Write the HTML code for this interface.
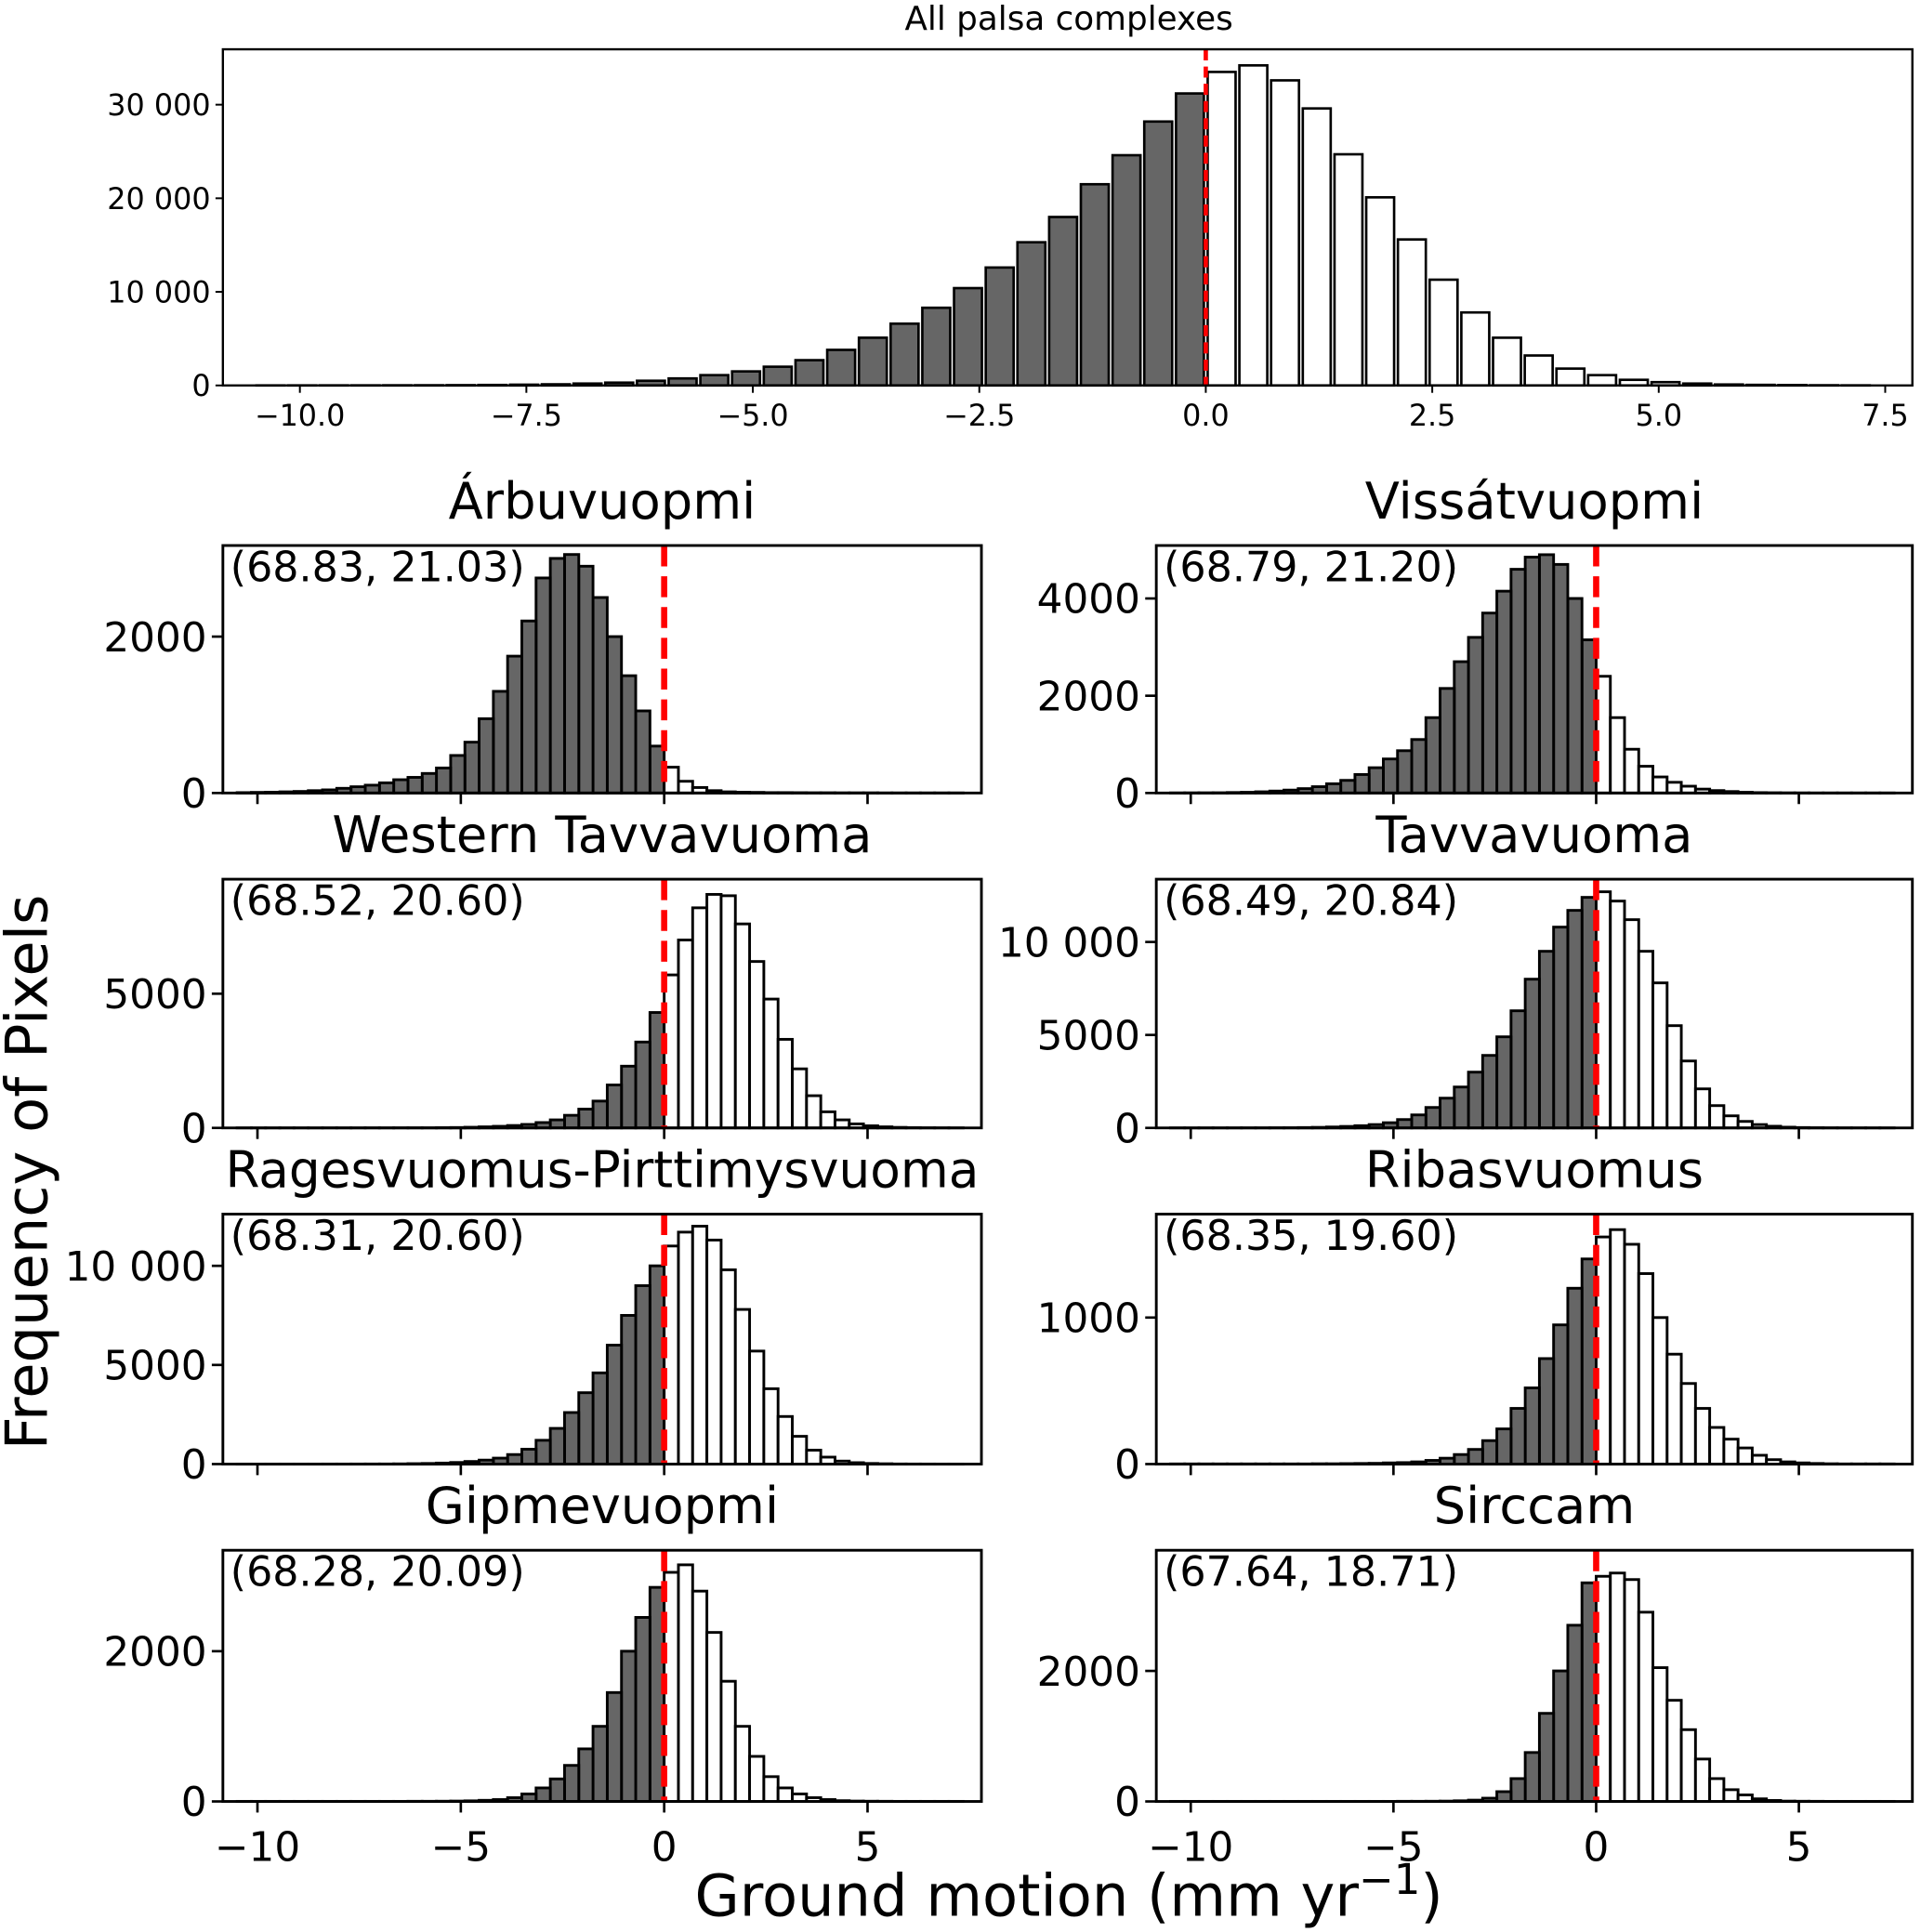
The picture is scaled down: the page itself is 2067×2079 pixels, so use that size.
<!DOCTYPE html>
<html><head><meta charset="utf-8"><style>
html,body{margin:0;padding:0;background:#fff;}
svg{display:block;font-family:"DejaVu Sans","Liberation Sans",sans-serif;}
</style></head><body>
<svg id="fig" xmlns="http://www.w3.org/2000/svg" width="2067" height="2079" viewBox="0 0 1560 1569">
<rect width="1560" height="1569" fill="#fff"/>
<text x="0" y="0" transform="translate(38,952) rotate(-90)" text-anchor="middle" font-size="47">Frequency of Pixels</text>
<text x="868" y="1556" text-anchor="middle" font-size="47">Ground motion (mm yr<tspan dy="-18" font-size="34">−1</tspan><tspan dy="18">)</tspan></text>
</svg>
<script>
const binWidth = 0.35;
// counts per bin, going away from 0 (negative side leftwards, positive side rightwards)
const allNeg = [31200,28200,24600,21500,18000,15300,12600,10400,8300,6600,5100,3800,2700,2000,1500,1100,750,500,300,200,120,80,50,30,20,15,10,8,5,3];
const allPos = [33500,34200,32600,29600,24700,20100,15600,11300,7800,5100,3200,1800,1100,600,350,200,100,60,40,20,10];
const arbNeg = [600,1050,1500,2000,2500,2900,3050,3000,2750,2200,1750,1300,950,650,480,320,250,200,170,130,100,80,60,40,30,20,15,10,8,5];
const arbPos = [330,150,70,30,15,10,8,5,5,4,3,3,2,2,2,1,1,1,1,1,1];
const visNeg = [3150,4000,4700,4900,4850,4600,4150,3700,3200,2700,2150,1550,1100,870,700,520,380,260,190,130,90,60,40,25,15,10,5,4,3,2];
const visPos = [2400,1550,900,550,330,220,140,80,50,30,15,8,5,3,2,1,1,1,1,1,1];
const wtaNeg = [4300,3200,2300,1600,1000,700,470,300,200,130,90,60,40,25,15,10,5,5,4,3,3,2,2,2,1,1,1,1,1,1];
const wtaPos = [5700,7000,8200,8700,8650,7600,6200,4800,3300,2200,1200,600,300,150,80,40,20,10,5,3,2];
const tavNeg = [12400,11700,10800,9500,8000,6300,4900,3900,3000,2200,1600,1100,700,450,280,180,120,80,50,30,20,10,8,5,4,3,2,2,1,1];
const tavPos = [12700,12200,11200,9500,7800,5500,3600,2100,1200,650,350,180,90,40,20,10,5,3,2,1,1];
const ragNeg = [10000,9000,7500,6000,4600,3600,2600,1800,1200,750,480,300,200,130,80,50,30,20,10,5,4,3,2,2,1,1,1,1,1,1];
const ragPos = [11000,11700,12000,11300,9800,7800,5700,3800,2400,1400,700,350,150,70,30,15,5,3,2,1,1];
const ribNeg = [1400,1200,950,720,520,380,240,160,100,65,40,25,15,10,8,5,4,3,2,2,1,1,1,1,1,1,1,1,1,1];
const ribPos = [1550,1600,1500,1300,1000,750,550,380,250,170,110,60,30,15,8,4,2,1,1,1,1];
const gipNeg = [2850,2450,2000,1450,1000,700,480,300,180,100,50,25,15,8,5,3,2,2,1,1,1,1,1,1,1,1,1,1,1,1];
const gipPos = [3050,3150,2800,2250,1600,1000,600,330,180,100,50,25,10,5,3,2,1,1,1,1,1];
const sirNeg = [3350,2700,2000,1350,750,350,150,50,20,10,5,3,2,2,1,1,1,1,1,1,1,1,1,1,1,1,1,1,1,1];
const sirPos = [3450,3500,3400,2900,2050,1550,1100,650,350,180,100,40,15,5,3,2,1,1,1,1,1];
const topXTicks = [-10,-7.5,-5,-2.5,0,2.5,5,7.5];
const topXTickLabels = ["−10.0","−7.5","−5.0","−2.5","0.0","2.5","5.0","7.5"];
const topYTicks = [0,10000,20000,30000];
const topYTickLabels = ["0","10 000","20 000","30 000"];
const smallXTicks = [-10,-5,0,5];
const smallXTickLabels = ["−10","−5","0","5"];
const panelTitles = ["Árbuvuopmi","Vissátvuopmi","Western Tavvavuoma","Tavvavuoma","Ragesvuomus-Pirttimysvuoma","Ribasvuomus","Gipmevuopmi","Sirccam"];
const panelCoords = ["(68.83, 21.03)","(68.79, 21.20)","(68.52, 20.60)","(68.49, 20.84)","(68.31, 20.60)","(68.35, 19.60)","(68.28, 20.09)","(67.64, 18.71)"];
const panelYTicks = [[0,2000],[0,2000,4000],[0,5000],[0,5000,10000],[0,5000,10000],[0,1000],[0,2000],[0,2000]];
const panelYTickLabels = [["0","2000"],["0","2000","4000"],["0","5000"],["0","5000","10 000"],["0","5000","10 000"],["0","1000"],["0","2000"],["0","2000"]];
const panelYMax = [3165,5089,9266,13377,12609,1706,3344,3849];
const panelNeg = [arbNeg,visNeg,wtaNeg,tavNeg,ragNeg,ribNeg,gipNeg,sirNeg];
const panelPos = [arbPos,visPos,wtaPos,tavPos,ragPos,ribPos,gipPos,sirPos];

const NS = "http://www.w3.org/2000/svg";
const fig = document.getElementById('fig');
const XMIN = -10.85, XMAX = 7.8;
function mk(tag, attrs, parent){const e=document.createElementNS(NS,tag);for(const k in attrs)e.setAttribute(k,attrs[k]);parent.appendChild(e);return e;}

function drawPanel(g, box, neg, pos, yMax, yTicks, yLabels, xTicks, xLabels, showXLabels, o){
  const [x0,y0,x1,y1]=box;
  const xs=v=>x0+(v-XMIN)/(XMAX-XMIN)*(x1-x0);
  const ys=v=>y1-v/yMax*(y1-y0);
  const bars=[];
  neg.forEach((c,i)=>bars.push({lo:-(i+1)*binWidth,c,dark:true}));
  pos.forEach((c,i)=>bars.push({lo:i*binWidth,c,dark:false}));
  bars.forEach(b=>{
    const w=xs(b.lo+binWidth)-xs(b.lo);
    const r=mk('rect',{x:xs(b.lo)+w*o.gap/2,y:ys(b.c),width:w*(1-o.gap),height:y1-ys(b.c),fill:b.dark?'#666':'#fff',stroke:'#000','stroke-width':o.bw},g);
    
    
  });
  const ln=mk('line',{x1:xs(0),x2:xs(0),y1:y0,y2:y1,stroke:'#f00','stroke-width':o.rw,'stroke-dasharray':o.dash},g);
  
  
  const fr=mk('rect',{x:x0,y:y0,width:x1-x0,height:y1-y0,fill:'none',stroke:'#000','stroke-width':o.fw},g);
  
  
  yTicks.forEach((v,i)=>{
    mk('line',{x1:x0-o.tl,x2:x0,y1:ys(v),y2:ys(v),stroke:'#000','stroke-width':o.tw},g);
    const t=mk('text',{x:x0-o.tl-4,y:ys(v)+o.fs*0.36,'text-anchor':'end','font-size':o.fs},g);
    t.textContent=yLabels[i];
    
    
  });
  xTicks.forEach((v,i)=>{
    mk('line',{x1:xs(v),x2:xs(v),y1:y1,y2:y1+o.tl,stroke:'#000','stroke-width':o.tw},g);
    if(showXLabels){
      const t=mk('text',{x:xs(v),y:y1+o.tl+o.fs*0.95+o.xoff,'text-anchor':'middle','font-size':o.fs},g);
      t.textContent=xLabels[i];
      
      
    }
  });
}

// top panel
const gt=mk('g',{},fig);


const tt=mk('text',{x:868,y:24,'text-anchor':'middle','font-size':27},gt);
tt.textContent='All palsa complexes';


drawPanel(gt,[181,40,1553,313],allNeg,allPos,35920,topYTicks,topYTickLabels,topXTicks,topXTickLabels,true,{bw:2,rw:3.5,dash:'9,5',fw:1.8,tl:6,tw:1.5,fs:24,gap:0.12,xoff:4});

const cols=[[181,797],[939,1553]];
const rows=[[443,644],[714,916],[986,1189],[1259,1463]];
panelTitles.forEach((title,i)=>{
  const c=cols[i%2], r=rows[Math.floor(i/2)];
  const g=mk('g',{},fig);
  
  
  const t=mk('text',{x:(c[0]+c[1])/2,y:r[0]-22,'text-anchor':'middle','font-size':41},g);
  if(i===4){t.setAttribute('textLength','612');t.setAttribute('lengthAdjust','spacingAndGlyphs');}
  t.textContent=title;
  
  
  drawPanel(g,[c[0],r[0],c[1],r[1]],panelNeg[i],panelPos[i],panelYMax[i],panelYTicks[i],panelYTickLabels[i],smallXTicks,smallXTickLabels,i>=6,{bw:2.2,rw:5,dash:'17,8',fw:2.2,tl:9,tw:2,fs:33,gap:0,xoff:8});
  const a=mk('text',{x:c[0]+6,y:r[0]+29,'font-size':33.5},g);
  a.textContent=panelCoords[i];
  
  
});
</script>
</body></html>
